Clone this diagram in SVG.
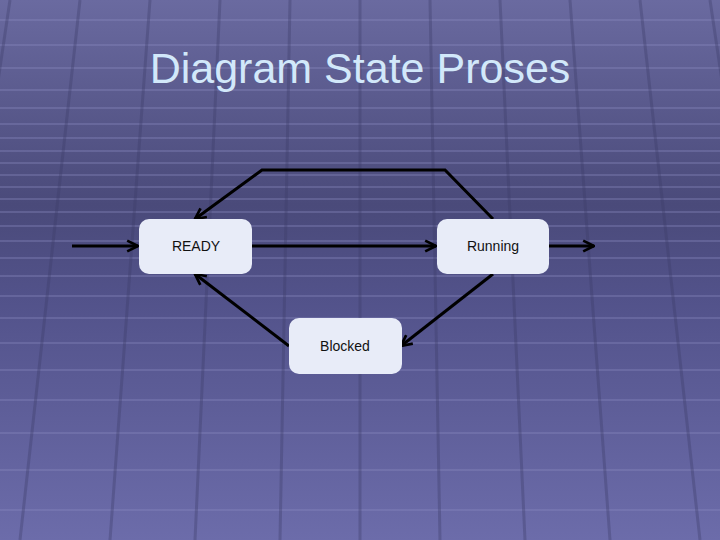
<svg xmlns="http://www.w3.org/2000/svg" width="720" height="540" viewBox="0 0 720 540">
<style>
.node rect{fill:#e8ecf8;stroke:none}
.node text{font-family:"Liberation Sans",Arial,sans-serif;font-size:14px;fill:#111;text-anchor:middle;dominant-baseline:central}
.conn path{fill:none;stroke:#000;stroke-width:3;marker-end:url(#ah)}
.grid line{stroke:#8a8ac0;stroke-width:2;opacity:0.35}
.vgrid line{stroke:#3c3c68;stroke-width:3;opacity:0.35}
</style>
<defs>
<linearGradient id="bg" x1="0" y1="0" x2="0" y2="1">
<stop offset="0" stop-color="#6a6aa0"/>
<stop offset="0.38" stop-color="#4a4a7a"/>
<stop offset="0.55" stop-color="#52528a"/>
<stop offset="1" stop-color="#6c6caa"/>
</linearGradient>
<marker id="ah" viewBox="0 0 10 10" refX="9" refY="5" markerWidth="4.5" markerHeight="4.5" orient="auto" markerUnits="strokeWidth">
<path d="M1,1 L9,5 L1,9" fill="none" stroke="#000" stroke-width="2"/>
</marker>
</defs>
<rect width="720" height="540" fill="url(#bg)"/>
<g class="grid">
<line x1="0" y1="20" x2="720" y2="20"/><line x1="0" y1="45" x2="720" y2="45"/>
<line x1="0" y1="68" x2="720" y2="68"/><line x1="0" y1="90" x2="720" y2="90"/>
<line x1="0" y1="108" x2="720" y2="108"/><line x1="0" y1="124" x2="720" y2="124"/>
<line x1="0" y1="138" x2="720" y2="138"/><line x1="0" y1="151" x2="720" y2="151"/>
<line x1="0" y1="163" x2="720" y2="163"/><line x1="0" y1="175" x2="720" y2="175"/>
<line x1="0" y1="187" x2="720" y2="187"/><line x1="0" y1="199" x2="720" y2="199"/>
<line x1="0" y1="212" x2="720" y2="212"/><line x1="0" y1="226" x2="720" y2="226"/>
<line x1="0" y1="241" x2="720" y2="241"/><line x1="0" y1="258" x2="720" y2="258"/>
<line x1="0" y1="276" x2="720" y2="276"/><line x1="0" y1="296" x2="720" y2="296"/>
<line x1="0" y1="318" x2="720" y2="318"/><line x1="0" y1="343" x2="720" y2="343"/>
<line x1="0" y1="370" x2="720" y2="370"/><line x1="0" y1="400" x2="720" y2="400"/>
<line x1="0" y1="433" x2="720" y2="433"/><line x1="0" y1="470" x2="720" y2="470"/>
<line x1="0" y1="510" x2="720" y2="510"/>
</g>
<g class="vgrid">
<line x1="360" y1="0" x2="360" y2="540"/>
<line x1="290" y1="0" x2="280" y2="540"/><line x1="430" y1="0" x2="440" y2="540"/>
<line x1="220" y1="0" x2="195" y2="540"/><line x1="500" y1="0" x2="525" y2="540"/>
<line x1="150" y1="0" x2="110" y2="540"/><line x1="570" y1="0" x2="610" y2="540"/>
<line x1="80" y1="0" x2="20" y2="540"/><line x1="640" y1="0" x2="700" y2="540"/>
<line x1="10" y1="0" x2="-70" y2="540"/><line x1="710" y1="0" x2="790" y2="540"/>
</g>
<text x="360" y="83" font-family="'Liberation Sans',Arial,sans-serif" font-size="43" fill="#d2e8fa" text-anchor="middle">Diagram State Proses</text>
<g class="conn">
<path d="M72,246 L138,246"/>
<path d="M252,246 L436,246"/>
<path d="M549,246 L594,246"/>
<path d="M493,219 L445,170 L262,170 L195,219"/>
<path d="M493,274 L401,346"/>
<path d="M289,346 L195,274"/>
</g>
<g id="ready" class="node"><rect x="139" y="219" width="113" height="55" rx="10"/><text x="196" y="246">READY</text></g>
<g id="running" class="node"><rect x="437" y="219" width="112" height="55" rx="10"/><text x="493" y="246">Running</text></g>
<g id="blocked" class="node"><rect x="289" y="318" width="113" height="56" rx="10"/><text x="345" y="346">Blocked</text></g>
</svg>
